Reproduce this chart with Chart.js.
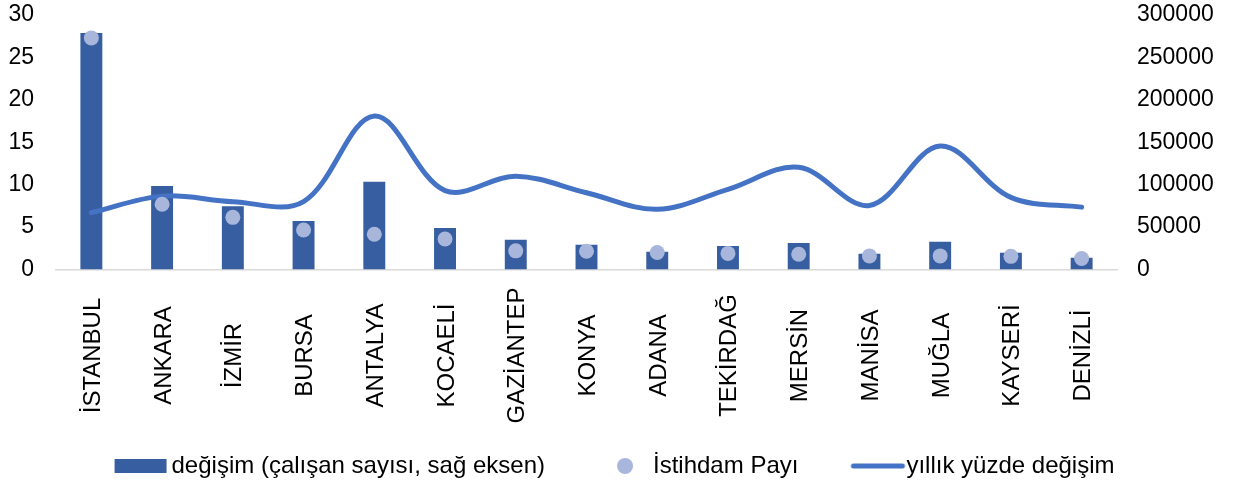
<!DOCTYPE html>
<html>
<head>
<meta charset="utf-8">
<script src="https://cdn.jsdelivr.net/npm/chart.js@4.4.1/dist/chart.umd.min.js"></script>
<style>
  html, body { margin: 0; padding: 0; background: #fff; }
  #wrap { width: 1234px; height: 484px; }
</style>
</head>
<body>
<div id="wrap"><canvas id="chart"></canvas></div>
<script>
// data
const cities = ['İSTANBUL', 'ANKARA', 'İZMİR', 'BURSA', 'ANTALYA', 'KOCAELİ', 'GAZİANTEP', 'KONYA',
  'ADANA', 'TEKİRDAĞ', 'MERSİN', 'MANİSA', 'MUĞLA', 'KAYSERİ', 'DENİZLİ'];
// değişim (çalışan sayısı), right axis
const workerChange = [278800, 98400, 74500, 57200, 103500, 48900, 35100, 29200, 21000, 27700, 31200, 18600, 32800, 19800, 13900];
// İstihdam Payı, left axis
const employmentShare = [27.3, 7.7, 6.15, 4.65, 4.15, 3.6, 2.2, 2.15, 2.0, 1.9, 1.8, 1.6, 1.6, 1.55, 1.3];
// yıllık yüzde değişim, left axis
const annualChange = [6.7, 8.65, 8.0, 8.0, 18.1, 9.3, 11.0, 9.05, 7.1, 9.45, 12.05, 7.55, 14.55, 8.5, 7.35];

const leftMax = 30, leftStep = 5;
const rightMax = 300000, rightStep = 50000;

const seriesNames = ['değişim (çalışan sayısı, sağ eksen)', 'İstihdam Payı', 'yıllık yüzde değişim'];
const barColor = '#365EA0';
const dotColor = '#A9B6DC';
const lineColor = '#4472C4';

Chart.defaults.font.family = '"Liberation Sans", Arial, sans-serif';
Chart.defaults.color = '#000';

// legend icons: canvas images, the text starts 22px right of the image centre
function legendIcon(draw) {
  const c = document.createElement('canvas');
  c.width = 164;
  c.height = 24;
  const g = c.getContext('2d');
  draw(g, 104);
  return c;
}
const icons = [
  legendIcon((g, t) => { g.fillStyle = barColor; g.fillRect(t - 57, 5, 52, 14); }),
  legendIcon((g, t) => { g.fillStyle = dotColor; g.beginPath(); g.arc(t - 28, 12, 8, 0, Math.PI * 2); g.fill(); }),
  legendIcon((g, t) => {
    g.strokeStyle = lineColor; g.lineWidth = 5; g.lineCap = 'round';
    g.beginPath(); g.moveTo(t - 53, 12); g.lineTo(t - 4, 12); g.stroke();
  })
];

// category names, rotated and centred in the band under the axis
const cityLabels = {
  id: 'cityLabels',
  afterDraw(chart) {
    const { ctx, scales: { x } } = chart;
    ctx.save();
    ctx.font = '24px "Liberation Sans", Arial, sans-serif';
    ctx.fillStyle = '#000';
    ctx.textAlign = 'center';
    ctx.textBaseline = 'alphabetic';
    chart.data.labels.forEach((label, i) => {
      ctx.save();
      ctx.translate(x.getPixelForTick(i), x.top + 86);
      ctx.rotate(-Math.PI / 2);
      ctx.fillText(label, 0, 8.5);
      ctx.restore();
    });
    ctx.restore();
  }
};

function noPad(s) {
  s.paddingTop = 0;
  s.paddingBottom = 0;
}

new Chart(document.getElementById('chart'), {
  data: {
    labels: cities,
    datasets: [
      {
        type: 'bar',
        label: seriesNames[0],
        data: workerChange,
        yAxisID: 'y1',
        backgroundColor: barColor,
        barPercentage: 0.31,
        categoryPercentage: 1,
        order: 3
      },
      {
        type: 'line',
        label: seriesNames[1],
        data: employmentShare,
        yAxisID: 'y',
        showLine: false,
        pointRadius: 7.5,
        pointBackgroundColor: dotColor,
        pointBorderWidth: 0,
        order: 1
      },
      {
        type: 'line',
        label: seriesNames[2],
        data: annualChange,
        yAxisID: 'y',
        borderColor: lineColor,
        borderWidth: 5,
        tension: 0.35,
        pointRadius: 0,
        borderCapStyle: 'round',
        order: 2
      }
    ]
  },
  options: {
    responsive: true,
    maintainAspectRatio: false,
    animation: false,
    events: [],
    layout: { autoPadding: false, padding: { left: 6, right: -14, top: 15, bottom: 0 } },
    scales: {
      x: {
        ticks: { display: false },
        grid: { display: false, drawTicks: false },
        border: { display: true, color: '#D9D9D9', width: 1.5 },
        afterFit(s) { s.height = 108.5; }
      },
      y: {
        position: 'left',
        min: 0,
        max: leftMax,
        ticks: { stepSize: leftStep, padding: 22, color: '#000', font: { size: 23 } },
        grid: { display: false, drawTicks: false },
        border: { display: false },
        afterFit(s) { s.width = 50; noPad(s); }
      },
      y1: {
        position: 'right',
        min: 0,
        max: rightMax,
        ticks: {
          stepSize: rightStep,
          padding: 20,
          color: '#000',
          font: { size: 23 },
          callback: v => String(v)
        },
        grid: { display: false, drawTicks: false },
        border: { display: false },
        afterFit(s) { s.width = 131; noPad(s); }
      }
    },
    plugins: {
      tooltip: { enabled: false },
      legend: {
        position: 'bottom',
        maxHeight: 106,
        labels: {
          usePointStyle: true,
          pointStyleWidth: 20,
          padding: 76,
          color: '#000',
          font: { size: 24 },
          sort: (a, b) => a.datasetIndex - b.datasetIndex,
          generateLabels(chart) {
            const items = Chart.defaults.plugins.legend.labels.generateLabels(chart);
            items.forEach(it => { it.pointStyle = icons[it.datasetIndex]; });
            return items;
          }
        }
      }
    }
  },
  plugins: [cityLabels]
});
</script>
</body>
</html>
